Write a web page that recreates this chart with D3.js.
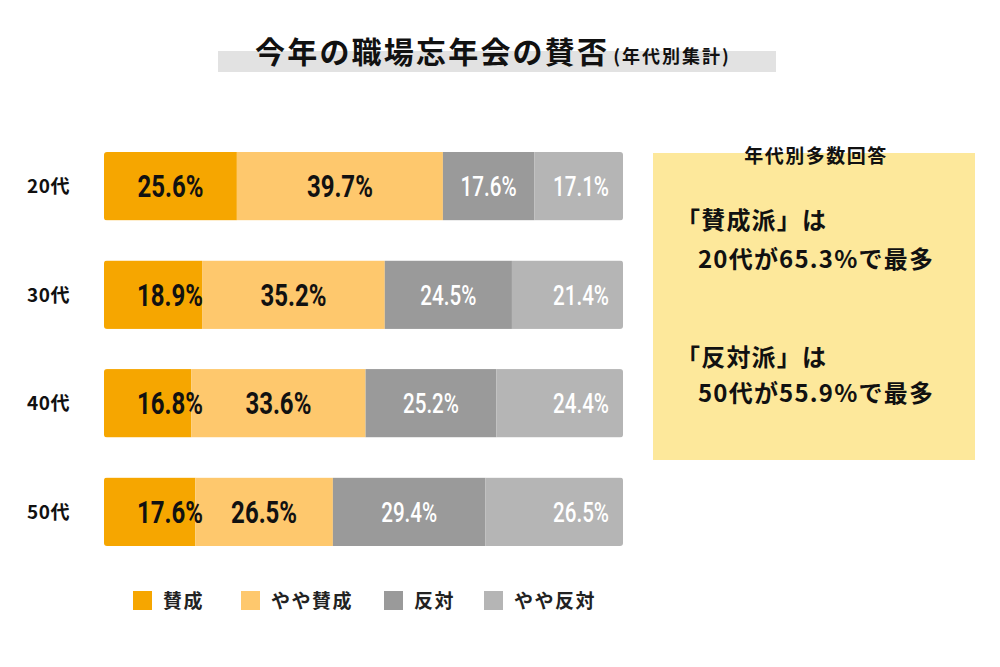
<!DOCTYPE html>
<html>
<head>
<meta charset="utf-8">
<script src="https://cdn.jsdelivr.net/npm/d3@7"></script>
<style>
  body { margin: 0; background: #fff; }
  svg { display: block; }
</style>
</head>
<body>
<div id="chart"></div>
<script>
// 年代ごとの回答データ
const ages = ["20代", "30代", "40代", "50代"];
const series = ["賛成", "やや賛成", "反対", "やや反対"];
const sanssei     = [25.6, 18.9, 16.8, 17.6];
const yayaSansei  = [39.7, 35.2, 33.6, 26.5];
const hantai      = [17.6, 24.5, 25.2, 29.4];
const yayaHantai  = [17.1, 21.4, 24.4, 26.5];
const title = "今年の職場忘年会の賛否";
const subtitle = "(年代別集計)";
const noteTitle = "年代別多数回答";
const noteLines = ["「賛成派」は", "20代が65.3%で最多", "「反対派」は", "50代が55.9%で最多"];

const colors = ["#F6A600", "#FEC86D", "#9A9A9A", "#B5B5B5"];
const jp = "'Noto Sans CJK JP', 'Noto Sans', sans-serif";
const num = "Roboto, 'DejaVu Sans', sans-serif";

const width = 1000, height = 667;

var svg = d3.select("#chart")
    .append("svg")
        .attr("width", width)
        .attr("height", height);

// 表の形にまとめる
const table = ages.map((age, i) => ({
    age: age,
    "賛成": sanssei[i],
    "やや賛成": yayaSansei[i],
    "反対": hantai[i],
    "やや反対": yayaHantai[i]
}));
const stacked = d3.stack().keys(series)(table);

var xScale = d3.scaleLinear()
    .domain([0, 100])
    .range([104, 623]);

var yScale = d3.scaleBand()
    .domain(ages)
    .range([152, 546])
    .paddingInner(0.37)
    .paddingOuter(0);

// タイトル
svg.append("rect")
    .attr("x", 218).attr("y", 51)
    .attr("width", 558).attr("height", 21)
    .attr("fill", "#E2E2E2");
const titleText = svg.append("text")
    .attr("x", 255).attr("y", 63)
    .attr("font-family", jp)
    .attr("font-weight", "bold")
    .attr("fill", "#111");
titleText.append("tspan")
    .attr("font-size", 30)
    .attr("letter-spacing", 2.2)
    .text(title);
titleText.append("tspan")
    .attr("font-size", 18)
    .attr("letter-spacing", 2)
    .attr("dx", 4)
    .text(subtitle);

// 行ごとのクリップ (右端を少し丸める)
const defs = svg.append("defs");
ages.forEach((age, i) => {
    defs.append("clipPath")
        .attr("id", "row" + i)
        .append("rect")
            .attr("x", xScale(0))
            .attr("y", yScale(age))
            .attr("width", xScale(100) - xScale(0))
            .attr("height", yScale.bandwidth())
            .attr("rx", 3);
});

const layers = svg.selectAll(".layer")
    .data(stacked)
    .enter()
    .append("g")
    .attr("class", "layer")
    .attr("fill", (d, i) => colors[i]);

layers.selectAll("rect")
    .data(d => d)
    .enter()
    .append("rect")
    .attr("clip-path", (d, i) => `url(#row${i})`)
    .attr("x", d => xScale(d[0]))
    .attr("y", d => yScale(d.data.age))
    .attr("width", d => xScale(d[1]) - xScale(d[0]))
    .attr("height", yScale.bandwidth());

// 数値ラベル (全部の棒の上に描く)
const labels = svg.append("g");
stacked.forEach((layer, k) => {
    labels.selectAll(".lab" + k)
        .data(layer)
        .enter()
        .append("text")
        .attr("class", "lab" + k)
        .attr("font-family", num)
        .attr("font-weight", k < 2 ? "bold" : "500")
        .attr("font-size", k < 2 ? 31 : 27)
        .attr("fill", k < 2 ? "#111" : "#fff")
        .attr("text-anchor", k == 3 ? "end" : "middle")
        .attr("textLength", k < 2 ? 66 : 56)
        .attr("lengthAdjust", "spacingAndGlyphs")
        .attr("x", d => {
            const mid = (xScale(d[0]) + xScale(d[1])) / 2;
            if (k == 0) return Math.max(mid, xScale(0) + 66);
            if (k == 3) return xScale(d[1]) - 14;
            return mid;
        })
        .attr("y", d => yScale(d.data.age) + yScale.bandwidth() / 2 + (k < 2 ? 11 : 10))
        .text(d => (d[1] - d[0]).toFixed(1) + "%");
});

// 年代ラベル
svg.selectAll(".age")
    .data(ages)
    .enter()
    .append("text")
    .attr("class", "age")
    .attr("x", 27)
    .attr("y", d => yScale(d) + yScale.bandwidth() / 2 + 7)
    .attr("font-family", jp)
    .attr("font-weight", "bold")
    .attr("font-size", 19)
    .attr("letter-spacing", 0.5)
    .attr("fill", "#111")
    .text(d => d);

// 凡例
const legendX = [133, 241, 384, 484];
const legend = svg.selectAll(".legend")
    .data(series)
    .enter()
    .append("g")
    .attr("class", "legend")
    .attr("transform", (d, i) => `translate(${legendX[i]}, 591)`);
legend.append("rect")
    .attr("width", 19).attr("height", 19)
    .attr("fill", (d, i) => colors[i]);
legend.append("text")
    .attr("x", 30).attr("y", 17)
    .attr("font-family", jp)
    .attr("font-weight", "bold")
    .attr("font-size", 19)
    .attr("letter-spacing", 1.5)
    .attr("fill", "#222")
    .text(d => d);

// 右側の注記ボックス
svg.append("rect")
    .attr("x", 653).attr("y", 153)
    .attr("width", 322).attr("height", 307)
    .attr("fill", "#FDE89B");
svg.append("text")
    .attr("x", 816).attr("y", 163)
    .attr("text-anchor", "middle")
    .attr("font-family", jp)
    .attr("font-weight", "bold")
    .attr("font-size", 19)
    .attr("letter-spacing", 1.5)
    .attr("fill", "#111")
    .text(noteTitle);
const noteX = [676, 698, 676, 698];
const noteY = [229, 268, 366, 402];
svg.selectAll(".note")
    .data(noteLines)
    .enter()
    .append("text")
    .attr("class", "note")
    .attr("x", (d, i) => noteX[i])
    .attr("y", (d, i) => noteY[i])
    .attr("font-family", jp)
    .attr("font-weight", "bold")
    .attr("font-size", 24)
    .attr("letter-spacing", 1.2)
    .attr("fill", "#111")
    .text(d => d);
</script>
</body>
</html>
